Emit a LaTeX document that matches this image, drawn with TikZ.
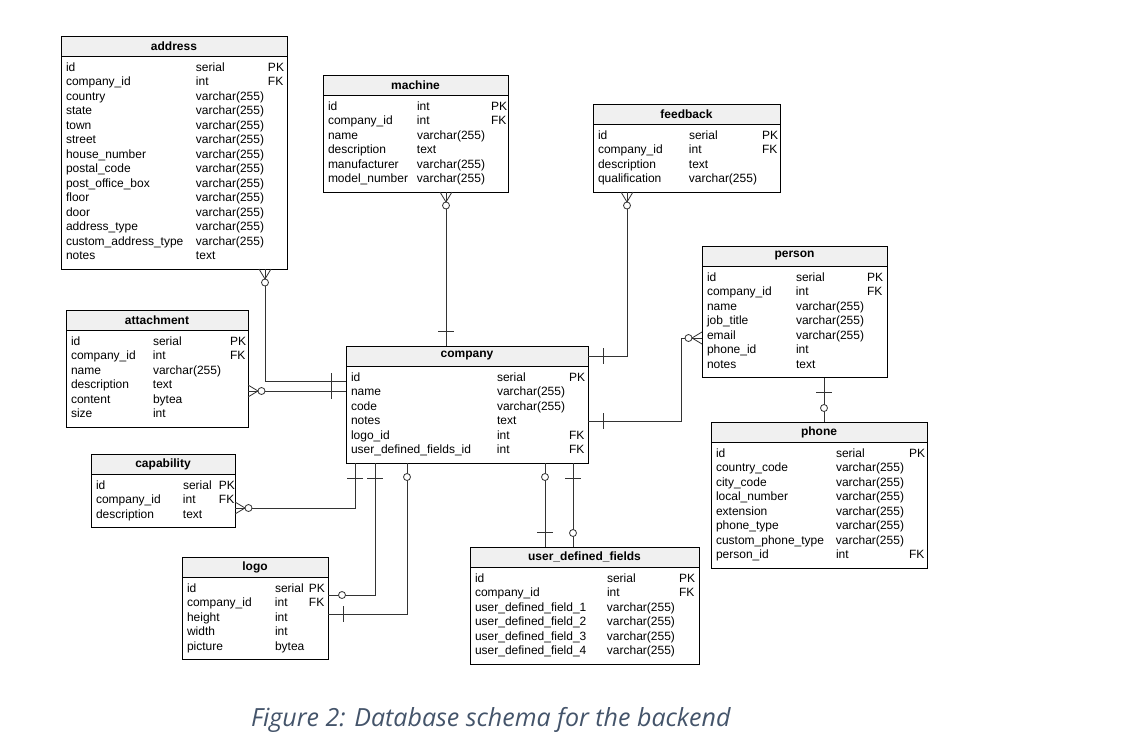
\documentclass[tikz,border=0pt]{standalone}
\usepackage{fontspec}
\setmainfont{Liberation Sans}
\newfontfamily\captionfont{Open Sans}
\usepackage{tikz}
\usetikzlibrary{positioning}
\usetikzlibrary{decorations.markings}

\definecolor{headgray}{HTML}{F0F0F0}
\definecolor{linegray}{HTML}{333333}
\definecolor{captionblue}{HTML}{44546A}
\newcommand{\tablefont}{\fontsize{12}{14.5}\selectfont}

\begin{document}
\begin{tikzpicture}[x=1pt,y=-1pt]
\tikzstyle{head}=[rectangle,draw,fill=headgray,line width=1pt,outer sep=0pt,
inner sep=0pt,minimum height=20pt,anchor=north west,font=\tablefont\bfseries]
\tikzstyle{fields}=[rectangle,draw,line width=1pt,outer sep=0pt,
inner xsep=5pt,inner ysep=5pt,align=left,font=\tablefont]
\tikzstyle{rel}=[draw=linegray,line width=0.8pt]
\tikzstyle{many start}=[postaction={decorate,decoration={markings,mark=at position 0 with
{\draw[linegray,line width=0.8pt] (10pt,0pt) -- (0pt,6pt) (10pt,0pt) -- (0pt,-6pt);
\draw[linegray,line width=0.8pt,fill=white] (13.5pt,0pt) circle (3.5pt);}}}]
\tikzstyle{one start}=[postaction={decorate,decoration={markings,mark=at position 15pt with
{\draw[linegray,line width=0.8pt] (0pt,-8pt) -- (0pt,8pt);}}}]
\tikzstyle{one end}=[postaction={decorate,decoration={markings,mark=at position -15pt with
{\draw[linegray,line width=0.8pt] (0pt,-8pt) -- (0pt,8pt);}}}]
\tikzstyle{zero start}=[postaction={decorate,decoration={markings,mark=at position 14pt with
{\draw[linegray,line width=0.8pt,fill=white] (0pt,0pt) circle (3.5pt);}}}]
\tikzstyle{zero end}=[postaction={decorate,decoration={markings,mark=at position -14pt with
{\draw[linegray,line width=0.8pt,fill=white] (0pt,0pt) circle (3.5pt);}}}]

\useasboundingbox (0,0) rectangle (1122,737);

% tables
\node[head,minimum width=226pt] (address) at (61,36) {address};
\node[fields,text width=216pt,below right=0pt of address.south west] (address fields) {%
\begin{tabular}{@{}p{130pt}@{}p{72pt}@{}l@{}}
id & serial & PK\\
company\_id & int & FK\\
country & varchar(255) &\\
state & varchar(255) &\\
town & varchar(255) &\\
street & varchar(255) &\\
house\_number & varchar(255) &\\
postal\_code & varchar(255) &\\
post\_office\_box & varchar(255) &\\
floor & varchar(255) &\\
door & varchar(255) &\\
address\_type & varchar(255) &\\
custom\_address\_type & varchar(255) &\\
notes & text &
\end{tabular}};

\node[head,minimum width=185pt] (machine) at (323,75) {machine};
\node[fields,text width=175pt,below right=0pt of machine.south west] (machine fields) {%
\begin{tabular}{@{}p{89pt}@{}p{74pt}@{}l@{}}
id & int & PK\\
company\_id & int & FK\\
name & varchar(255) &\\
description & text &\\
manufacturer & varchar(255) &\\
model\_number & varchar(255) &
\end{tabular}};

\node[head,minimum width=187pt] (feedback) at (593,104) {feedback};
\node[fields,text width=177pt,below right=0pt of feedback.south west] (feedback fields) {%
\begin{tabular}{@{}p{91pt}@{}p{73pt}@{}l@{}}
id & serial & PK\\
company\_id & int & FK\\
description & text &\\
qualification & varchar(255) &
\end{tabular}};

\node[head,minimum width=185pt] (person) at (702,246) {person};
\node[fields,text width=175pt,below right=0pt of person.south west] (person fields) {%
\begin{tabular}{@{}p{89pt}@{}p{71pt}@{}l@{}}
id & serial & PK\\
company\_id & int & FK\\
name & varchar(255) &\\
job\_title & varchar(255) &\\
email & varchar(255) &\\
phone\_id & int &\\
notes & text &
\end{tabular}};

\node[head,minimum width=182pt] (attachment) at (66,310) {attachment};
\node[fields,text width=172pt,below right=0pt of attachment.south west] (attachment fields) {%
\begin{tabular}{@{}p{82pt}@{}p{77pt}@{}l@{}}
id & serial & PK\\
company\_id & int & FK\\
name & varchar(255) &\\
description & text &\\
content & bytea &\\
size & int &
\end{tabular}};

\node[head,minimum width=242pt] (company) at (346,346) {company};
\node[fields,text width=232pt,below right=0pt of company.south west] (company fields) {%
\begin{tabular}{@{}p{146pt}@{}p{72pt}@{}l@{}}
id & serial & PK\\
name & varchar(255) &\\
code & varchar(255) &\\
notes & text &\\
logo\_id & int & FK\\
user\_defined\_fields\_id & int & FK
\end{tabular}};

\node[head,minimum width=144pt] (capability) at (91,454) {capability};
\node[fields,text width=134pt,below right=0pt of capability.south west] (capability fields) {%
\begin{tabular}{@{}p{87pt}@{}p{36pt}@{}l@{}}
id & serial & PK\\
company\_id & int & FK\\
description & text &
\end{tabular}};

\node[head,minimum width=146pt] (logo) at (182,557) {logo};
\node[fields,text width=136pt,below right=0pt of logo.south west] (logo fields) {%
\begin{tabular}{@{}p{88pt}@{}p{34pt}@{}l@{}}
id & serial & PK\\
company\_id & int & FK\\
height & int &\\
width & int &\\
picture & bytea &
\end{tabular}};

\node[head,minimum width=229pt] (user defined fields) at (470,547) {user\_defined\_fields};
\node[fields,text width=219pt,below right=0pt of user defined fields.south west] (user defined fields fields) {%
\begin{tabular}{@{}p{132pt}@{}p{72pt}@{}l@{}}
id & serial & PK\\
company\_id & int & FK\\
user\_defined\_field\_1 & varchar(255) &\\
user\_defined\_field\_2 & varchar(255) &\\
user\_defined\_field\_3 & varchar(255) &\\
user\_defined\_field\_4 & varchar(255) &
\end{tabular}};

\node[head,minimum width=216pt] (phone) at (711,422) {phone};
\node[fields,text width=206pt,below right=0pt of phone.south west] (phone fields) {%
\begin{tabular}{@{}p{120pt}@{}p{73pt}@{}l@{}}
id & serial & PK\\
country\_code & varchar(255) &\\
city\_code & varchar(255) &\\
local\_number & varchar(255) &\\
extension & varchar(255) &\\
phone\_type & varchar(255) &\\
custom\_phone\_type & varchar(255) &\\
person\_id & int & FK
\end{tabular}};

% relations
\coordinate (address bend) at (265,381);
\coordinate (attachment line) at (0,391);
\coordinate (machine line) at (446,0);
\coordinate (feedback bend) at (627,356);
\coordinate (person bend a) at (681,338);
\coordinate (person bend b) at (681,421);
\coordinate (phone line) at (824,0);
\coordinate (capability bend) at (355,508);
\coordinate (logo bend a) at (375,595);
\coordinate (logo bend b) at (407,614);
\coordinate (udf line a) at (545,0);
\coordinate (udf line b) at (573,0);

\draw[rel,many start,one end] (address bend |- address fields.south) -- (address bend)
  -- (address bend -| company fields.west);
\draw[rel,many start,one end] (attachment fields.east |- attachment line)
  -- (company fields.west |- attachment line);
\draw[rel,many start,one end] (machine line |- machine fields.south) -- (machine line |- company.north);
\draw[rel,many start,one end] (feedback bend |- feedback fields.south) -- (feedback bend)
  -- (feedback bend -| company.east);
\draw[rel,many start,one end] (person bend a -| person fields.west) -- (person bend a)
  -- (person bend b) -- (person bend b -| company fields.east);
\draw[rel,one start,zero end] (phone line |- person fields.south) -- (phone line |- phone.north);
\draw[rel,many start,one end] (capability bend -| capability fields.east) -- (capability bend)
  -- (capability bend |- company fields.south);
\draw[rel,one start,zero end] (logo bend a |- company fields.south) -- (logo bend a)
  -- (logo bend a -| logo fields.east);
\draw[rel,zero start,one end] (logo bend b |- company fields.south) -- (logo bend b)
  -- (logo bend b -| logo fields.east);
\draw[rel,zero start,one end] (udf line a |- company fields.south) -- (udf line a |- user defined fields.north);
\draw[rel,one start,zero end] (udf line b |- company fields.south) -- (udf line b |- user defined fields.north);

% caption
\node[anchor=base west,inner sep=0pt,text=captionblue,
font=\captionfont\itshape\fontsize{25}{30}\selectfont] (caption) at (251,726)
{Figure 2: Database schema for the backend};
\end{tikzpicture}
\end{document}
